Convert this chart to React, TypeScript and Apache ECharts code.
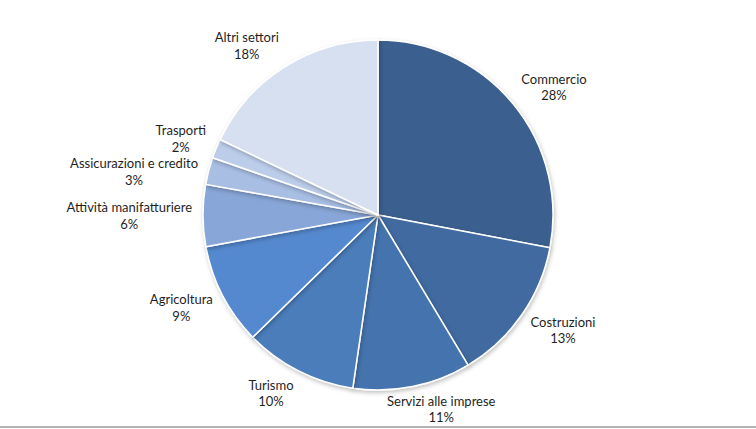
import React, { useEffect, useRef } from "react";
import * as echarts from "echarts";

const categories = [
  "Commercio",
  "Costruzioni",
  "Servizi alle imprese",
  "Turismo",
  "Agricoltura",
  "Attività manifatturiere",
  "Assicurazioni e credito",
  "Trasporti",
  "Altri settori",
];
// shares (%); labels show them rounded
const values = [28.0, 13.4, 10.9, 10.4, 9.4, 5.7, 2.5, 1.8, 17.9];
const colors = [
  "#3b5f8e",
  "#3f6aa0",
  "#4573ad",
  "#4b7dbb",
  "#5589cf",
  "#88a6d7",
  "#a8bee3",
  "#bccdea",
  "#d6e0f1",
];

const W = 756;
const H = 429;
const CX = 378;
const CY = 215;
const R = 175;

const clamp = (v: number) => Math.max(-1, Math.min(1, v));

export default function App() {
  const ref = useRef<HTMLDivElement>(null);
  useEffect(() => {
    if (!ref.current) return;
    const chart = echarts.init(ref.current, null, { renderer: "svg" });
    chart.setOption({
      animation: false,
      backgroundColor: "#ffffff",
      graphic: [
        {
          type: "line",
          shape: { x1: 0, y1: H - 2, x2: W, y2: H - 2 },
          style: { stroke: "#b4b4b4", lineWidth: 2 },
          silent: true,
        },
      ],
      series: [
        {
          type: "pie",
          center: [CX, CY],
          radius: [0, R],
          startAngle: 90,
          clockwise: true,
          data: categories.map((c, i) => ({
            name: c,
            value: values[i],
            itemStyle: { color: colors[i] },
          })),
          itemStyle: {
            borderColor: "#ffffff",
            borderWidth: 1.5,
            shadowColor: "rgba(0,0,0,0.25)",
            shadowBlur: 4,
            shadowOffsetX: 1,
            shadowOffsetY: 2,
          },
          label: {
            show: true,
            position: "inside",
            formatter: (p: any) => `${p.name}\n${Math.round(p.value)}%`,
            fontFamily: "Lato, 'Open Sans', sans-serif",
            fontSize: 13,
            lineHeight: 16.5,
            color: "#1f1f1f",
            align: "center",
          },
          labelLine: { show: false },
          labelLayout: (p: any) => {
            const r = p.labelRect;
            const lx = r.x + r.width / 2;
            const ly = r.y + r.height / 2;
            const dx = lx - CX;
            const dy = ly - CY;
            const d = Math.hypot(dx, dy) || 1;
            const ux = dx / d;
            const uy = dy / d;
            const px = CX + ux * (R + 3);
            const py = CY + uy * (R - 2);
            const gap = 8;
            const sx = clamp(ux * 2.5);
            const sy = clamp(uy * 1.2);
            const x = px + ux * gap + (sx * r.width) / 2;
            let y = py + uy * gap + (sy * r.height) / 2;
            const maxY = H - 3 - r.height / 2;
            if (y > maxY) y = maxY;
            const out: any = { x, y, align: "center", verticalAlign: "middle" };
            if (ux < -0.5) out.moveOverlap = "shiftY";
            return out;
          },
          emphasis: { disabled: true },
        },
      ],
    });
    return () => chart.dispose();
  }, []);
  return (
    <div
      ref={ref}
      style={{ position: "absolute", left: 0, top: 0, width: W, height: H }}
    />
  );
}
